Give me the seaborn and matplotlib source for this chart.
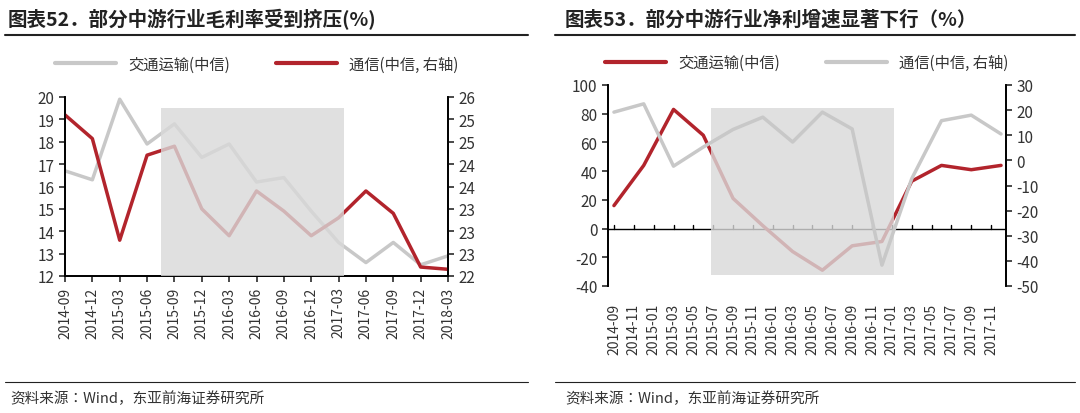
import numpy as np
import pandas as pd
import matplotlib
matplotlib.use('Agg')
import matplotlib.pyplot as plt
import seaborn as sns
from matplotlib import font_manager
from matplotlib.lines import Line2D
from matplotlib.patches import Rectangle

sns.set_theme(style='white')
# pick whichever CJK family is actually installed
names = {f.name for f in font_manager.fontManager.ttflist}
cjk = [n for n in ['Noto Sans CJK SC', 'Noto Sans CJK JP', 'Noto Sans CJK TC', 'Noto Sans CJK KR',
                   'Noto Sans SC', 'Noto Sans CJK'] if n in names]
if not cjk:
    cjk = [n for n in names if 'CJK' in n]
plt.rcParams['font.family'] = cjk[:1] + ['DejaVu Sans']
plt.rcParams['axes.unicode_minus'] = False

RED = '#b2242c'
GRAY = '#c8c8c8'
TXT = '#333333'

# left chart: gross margin, quarterly
q_labels = ['2014-09', '2014-12', '2015-03', '2015-06', '2015-09', '2015-12', '2016-03', '2016-06',
            '2016-09', '2016-12', '2017-03', '2017-06', '2017-09', '2017-12', '2018-03']
transport_gm = [16.7, 16.3, 19.9, 17.9, 18.8, 17.3, 17.9, 16.2, 16.4, 14.9, 13.5, 12.6, 13.5, 12.5, 12.9]
telecom_gm = [25.6, 25.07, 22.8, 24.7, 24.9, 23.5, 22.9, 23.9, 23.45, 22.9, 23.3, 23.9, 23.4, 22.2, 22.15]
right_ticks_left = ['22', '23', '23', '23', '24', '24', '25', '25', '26']

# right chart: net profit growth, quarterly points on monthly axis
m_labels = ['2014-09', '2014-11', '2015-01', '2015-03', '2015-05', '2015-07', '2015-09', '2015-11',
            '2016-01', '2016-03', '2016-05', '2016-07', '2016-09', '2016-11', '2017-01', '2017-03',
            '2017-05', '2017-07', '2017-09', '2017-11']
transport_np = [16, 44, 83, 65, 21, 2, -16, -29, -12, -9, 33, 44, 41, 44]
telecom_np = [19.2, 22.5, -2.3, 5.3, 12.3, 17.2, 7.3, 19.2, 12.5, -41.7, -7.3, 15.8, 18.0, 10.5]

fig = plt.figure(figsize=(10.8, 4.14), dpi=100)

# ---------- left ----------
ax1 = fig.add_axes([65 / 1080, 1 - 277 / 414, 383 / 1080, 179 / 414])
ax1b = ax1.twinx()
xq = np.arange(len(q_labels))
df1 = pd.DataFrame({'x': xq, 'gm': transport_gm, 'tel': telecom_gm})
sns.lineplot(data=df1, x='x', y='gm', ax=ax1, color=GRAY, lw=2.5)
sns.lineplot(data=df1, x='x', y='tel', ax=ax1b, color=RED, lw=2.5)
ax1.set_ylim(12, 20)
ax1.set_yticks(np.arange(12, 21, 1))
ax1b.set_ylim(22, 26)
ax1b.set_yticks(np.arange(22, 26.01, 0.5))
ax1b.set_yticklabels(right_ticks_left)
ax1.set_xlim(0, len(q_labels) - 1)
ax1.set_xticks(xq)
ax1.set_xticklabels(q_labels, rotation=90)
ax1b.add_patch(Rectangle((3.5, 22), 6.7, 3.75, color='#d9d9d9', alpha=0.8, lw=0, zorder=5))
for a in (ax1, ax1b):
    a.set_xlabel('')
    a.set_ylabel('')
    a.spines['top'].set_visible(False)
    for s in ('left', 'right', 'bottom'):
        a.spines[s].set_color('black')
    a.tick_params(colors=TXT, labelsize=11, length=4, direction='out')
ax1.tick_params(axis='y', left=True)
ax1b.tick_params(axis='y', right=True)
ax1.tick_params(axis='x', bottom=True, labelsize=10)
ax1.legend(handles=[Line2D([], [], color=GRAY, lw=3), Line2D([], [], color=RED, lw=3)],
           labels=['交通运输(中信)', '通信(中信, 右轴)'], loc='lower center',
           bbox_to_anchor=(0.5, 1.06), ncol=2, frameon=False, fontsize=11,
           labelcolor=TXT, columnspacing=3, handlelength=4)

# ---------- right ----------
ax2 = fig.add_axes([608 / 1080, 1 - 287 / 414, 398 / 1080, 201 / 414])
ax2b = ax2.twinx()
xm = np.arange(0, 40, 3)
df2 = pd.DataFrame({'x': xm, 'np': transport_np, 'tel': telecom_np})
sns.lineplot(data=df2, x='x', y='np', ax=ax2, color=RED, lw=2.5, zorder=4)
sns.lineplot(data=df2, x='x', y='tel', ax=ax2b, color=GRAY, lw=2.5)
ax2.set_ylim(-40, 100)
ax2.set_yticks(np.arange(-40, 101, 20))
ax2b.set_ylim(-50, 30)
ax2b.set_yticks(np.arange(-50, 31, 10))
ax2.set_xlim(-0.6, 39.5)
ax2.set_xticks(np.arange(0, 40, 2))
ax2.set_xticklabels(m_labels, rotation=90)
ax2.axhline(0, color='black', lw=1)
for t in np.arange(0, 40, 2):
    ax2.plot([t, t], [0, 2.2], color='black', lw=1)
ax2.add_patch(Rectangle((9.8, -32), 18.4, 116, color='#d9d9d9', alpha=0.8, lw=0, zorder=6))
for a in (ax2, ax2b):
    a.set_xlabel('')
    a.set_ylabel('')
    a.spines['top'].set_visible(False)
    a.spines['bottom'].set_visible(False)
    for s in ('left', 'right'):
        a.spines[s].set_color('black')
    a.tick_params(colors=TXT, labelsize=11, length=4, direction='out')
ax2.tick_params(axis='y', left=True)
ax2b.tick_params(axis='y', right=True)
ax2.tick_params(axis='x', bottom=False, labelsize=10, pad=8)
ax2.legend(handles=[Line2D([], [], color=RED, lw=3), Line2D([], [], color=GRAY, lw=3)],
           labels=['交通运输(中信)', '通信(中信, 右轴)'], loc='lower center',
           bbox_to_anchor=(0.5, 1.0), ncol=2, frameon=False, fontsize=11,
           labelcolor=TXT, columnspacing=3, handlelength=4)

# ---------- titles, rules, sources ----------
fig.text(8 / 1080, 1 - 20 / 414, '图表52．部分中游行业毛利率受到挤压(%)', fontsize=14,
         fontweight='bold', color='#222222', va='center')
fig.text(565 / 1080, 1 - 20 / 414, '图表53．部分中游行业净利增速显著下行（%）', fontsize=14,
         fontweight='bold', color='#222222', va='center')
for x0, x1 in ((5, 528), (555, 1075)):
    fig.add_artist(Line2D([x0 / 1080, x1 / 1080], [1 - 36 / 414] * 2, color='#222222', lw=1.5))
    fig.add_artist(Line2D([x0 / 1080, x1 / 1080], [1 - 383 / 414] * 2, color='#222222', lw=0.8))
fig.text(10 / 1080, 1 - 399 / 414, '资料来源：Wind，东亚前海证券研究所', fontsize=10.5, color=TXT, va='center')
fig.text(565 / 1080, 1 - 399 / 414, '资料来源：Wind，东亚前海证券研究所', fontsize=10.5, color=TXT, va='center')

fig.savefig('out.png', dpi=100)
